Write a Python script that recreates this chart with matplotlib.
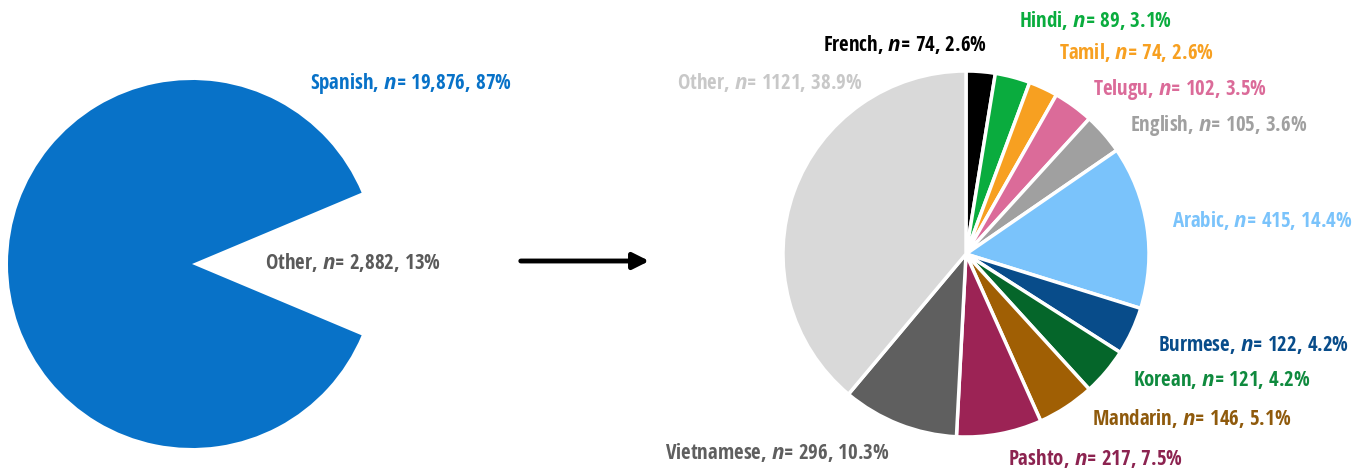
import matplotlib
matplotlib.use("Agg")
import matplotlib.pyplot as plt

plt.rcParams['font.family'] = ['Open Sans Condensed', 'DejaVu Sans']
plt.rcParams['font.weight'] = 'bold'
plt.rcParams['mathtext.fontset'] = 'custom'
plt.rcParams['mathtext.it'] = 'Open Sans:bold:italic'
plt.rcParams['mathtext.rm'] = 'Open Sans Condensed:bold'

W, H = 1366, 472

# left pie: Spanish vs everything else
left_names = ["Spanish", "Other"]
left_n = [19876, 2882]
left_pct = ["87%", "13%"]
left_colors = ["#0872c8", "none"]
left_text_colors = ["#0872c8", "#5a5a5a"]
left_label_pos = [(411, 84), (353, 262)]

# right pie: breakdown of "Other"
right_names = ["French", "Hindi", "Tamil", "Telugu", "English", "Arabic", "Burmese",
               "Korean", "Mandarin", "Pashto", "Vietnamese", "Other"]
right_n = [74, 89, 74, 102, 105, 415, 122, 121, 146, 217, 296, 1121]
right_pct = ["2.6%", "3.1%", "2.6%", "3.5%", "3.6%", "14.4%", "4.2%", "4.2%",
             "5.1%", "7.5%", "10.3%", "38.9%"]
right_colors = ["#000000", "#0aac3e", "#f7a021", "#db6b99", "#a0a0a0", "#7ac3fb",
                "#084c8a", "#05662a", "#a05f04", "#9c2355", "#5f5f5f", "#d9d9d9"]
right_text_colors = ["#000000", "#0aac3e", "#f7a021", "#db6b99", "#a0a0a0", "#7ac3fb",
                     "#084c8a", "#0f8a3e", "#8f5a0c", "#8c2350", "#5f5f5f", "#c8c8c8"]
right_label_pos = [(905, 45), (1096, 20), (1136, 53), (1180, 89), (1219, 125),
                   (1262, 221), (1253, 345), (1222, 380), (1192, 418), (1096, 458),
                   (777, 452), (770, 82)]


def pie_axes(fig, cx, cy, r):
    ax = fig.add_axes([(cx - r) / W, 1 - (cy + r) / H, 2 * r / W, 2 * r / H])
    ax.set_xlim(-1, 1)
    ax.set_ylim(-1, 1)
    ax.axis('off')
    return ax


fig = plt.figure(figsize=(W / 100, H / 100), dpi=100)

ax1 = pie_axes(fig, 192, 264, 184)
ax1.pie(left_n, colors=left_colors, startangle=-left_n[1] / sum(left_n) * 180,
        counterclock=False, radius=1)
ax1.set_xlim(-1, 1)
ax1.set_ylim(-1, 1)

ax2 = pie_axes(fig, 966, 254, 183)
ax2.pie(right_n, colors=right_colors, startangle=90, counterclock=False, radius=1,
        wedgeprops=dict(edgecolor='white', linewidth=2.5))
ax2.set_xlim(-1, 1)
ax2.set_ylim(-1, 1)

names = left_names + right_names
counts = left_n + right_n
pcts = left_pct + right_pct
tcolors = left_text_colors + right_text_colors
positions = left_label_pos + right_label_pos

for i in range(len(names)):
    fig.text(positions[i][0] / W, 1 - positions[i][1] / H,
             f"{names[i]}, $n$= {counts[i]:,}, {pcts[i]}" if counts[i] > 2000
             else f"{names[i]}, $n$= {counts[i]}, {pcts[i]}",
             color=tcolors[i], ha='center', va='center', fontsize=15,
             fontweight='bold')

fig.add_artist(matplotlib.patches.FancyArrowPatch(
    (518 / W, 1 - 261 / H), (652 / W, 1 - 261 / H), transform=fig.transFigure,
    arrowstyle='-|>', mutation_scale=24, linewidth=3.5, color='black'))

fig.savefig("out.png", dpi=100)
